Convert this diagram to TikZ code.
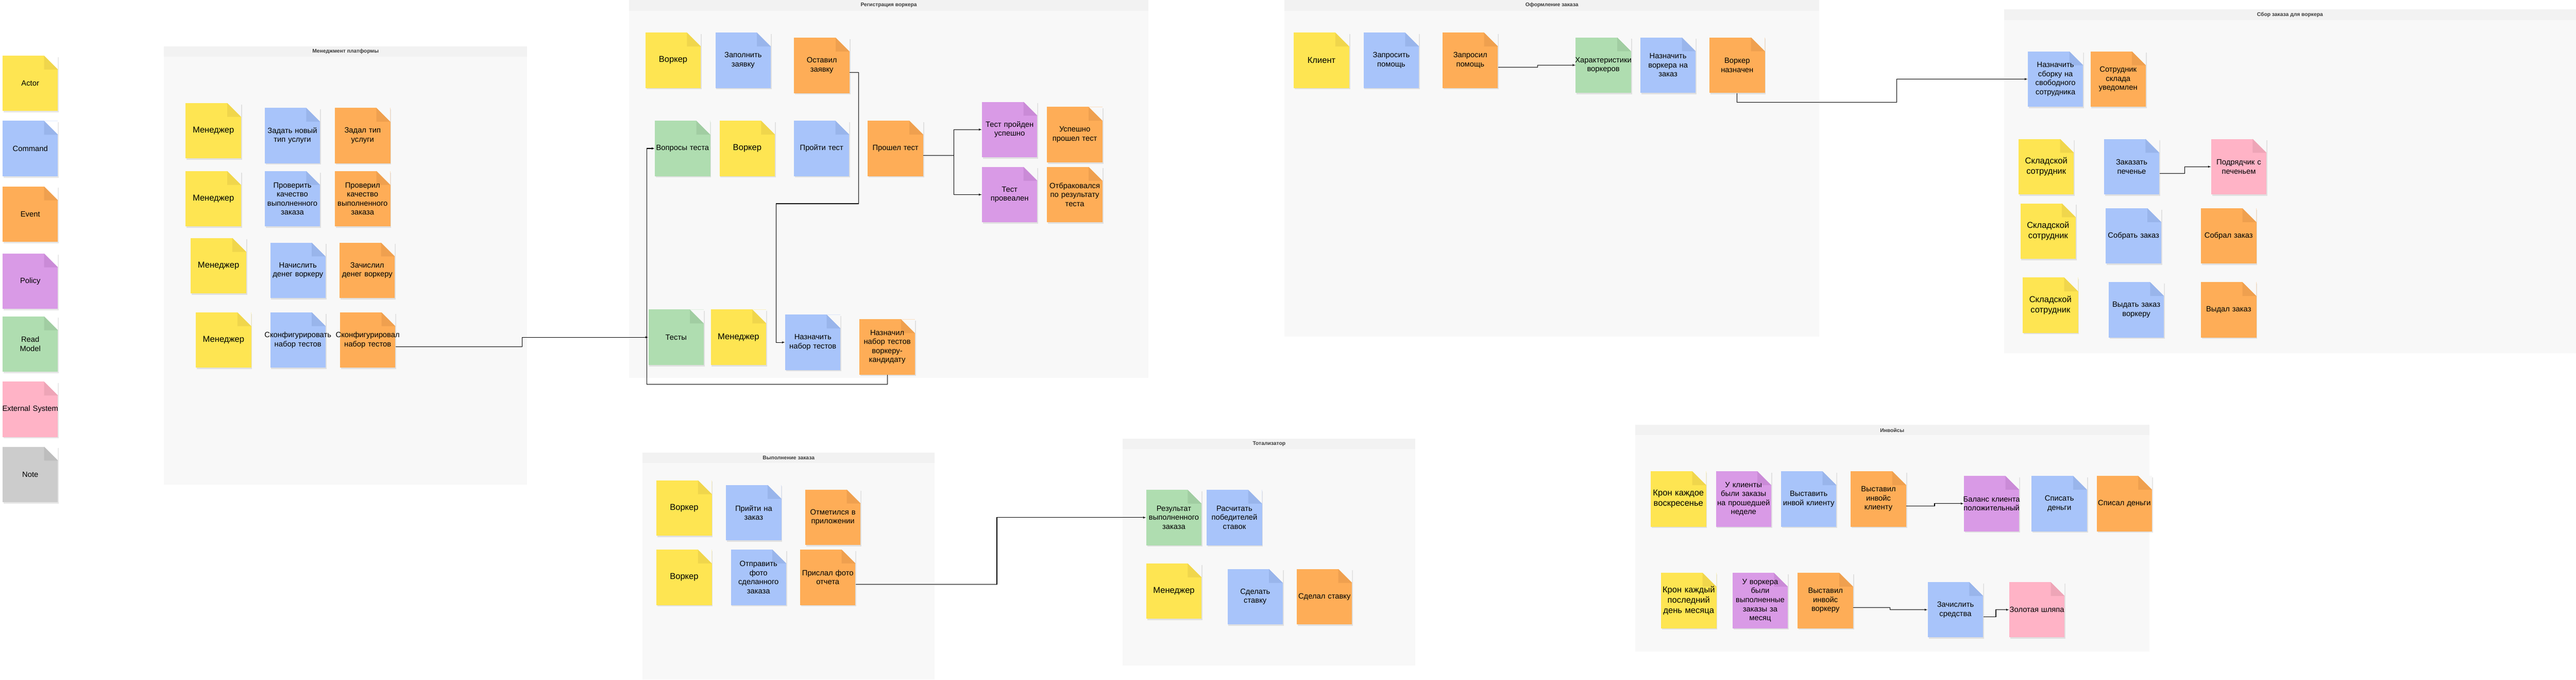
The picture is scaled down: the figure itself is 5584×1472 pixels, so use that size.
\documentclass[tikz,border=0pt]{standalone}
\usepackage{fontspec}
\setmainfont{Liberation Sans}
\usetikzlibrary{arrows,calc,positioning,shadows}

\definecolor{actorfill}{HTML}{FEE552}
\definecolor{actorfold}{HTML}{F0D64C}
\definecolor{cmdfill}{HTML}{A8C4FA}
\definecolor{cmdfold}{HTML}{99B5EB}
\definecolor{eventfill}{HTML}{FEAD57}
\definecolor{eventfold}{HTML}{EFA04F}
\definecolor{policyfill}{HTML}{D99AE6}
\definecolor{policyfold}{HTML}{CA8BD7}
\definecolor{readfill}{HTML}{AFDDB0}
\definecolor{readfold}{HTML}{A1CDA2}
\definecolor{extfill}{HTML}{FFB3C6}
\definecolor{extfold}{HTML}{EEA5B7}
\definecolor{remarkfill}{HTML}{CCCCCC}
\definecolor{remarkfold}{HTML}{BDBDBD}
\definecolor{lanebg}{HTML}{F8F8F8}
\definecolor{lanehead}{HTML}{F2F2F2}
\definecolor{lanetext}{HTML}{3C3C3C}

\newcommand{\stickyfont}{\fontsize{16.5}{19.6}\selectfont}
\newcommand{\actorfont}{\fontsize{18.5}{22}\selectfont}
\newcommand{\wideword}[1]{\makebox[0pt]{#1}}

\tikzset{foldcolor/.store in=\foldcol, cornercolor/.store in=\cornercol,
	foldcolor=actorfold, cornercolor=lanebg}

\begin{document}
\begin{tikzpicture}[x=1pt,y=-1pt,>=latex',line width=1.2pt]
	\tikzstyle{sticky} = [rectangle, minimum width=120pt, minimum height=120pt, text width=120pt, inner xsep=0pt, inner ysep=3pt, align=center, font=\stickyfont,
		drop shadow={opacity=0.2, shadow xshift=2pt, shadow yshift=-3pt},
		path picture={
			\fill[\cornercol] (path picture bounding box.north east) -- ++(-30pt,0pt) -- ++(30pt,-30pt) -- cycle;
			\fill[\foldcol] ([xshift=-30pt]path picture bounding box.north east) -- ++(0pt,-30pt) -- ++(30pt,0pt) -- cycle;}]
	\tikzstyle{actor} = [sticky, fill=actorfill, foldcolor=actorfold, font=\actorfont]
	\tikzstyle{command} = [sticky, fill=cmdfill, foldcolor=cmdfold]
	\tikzstyle{event} = [sticky, fill=eventfill, foldcolor=eventfold]
	\tikzstyle{policy} = [sticky, fill=policyfill, foldcolor=policyfold]
	\tikzstyle{readmodel} = [sticky, fill=readfill, foldcolor=readfold]
	\tikzstyle{extsys} = [sticky, fill=extfill, foldcolor=extfold]
	\tikzstyle{remark} = [sticky, fill=remarkfill, foldcolor=remarkfold]
	\tikzstyle{lanetitle} = [font=\fontsize{11.5}{14}\selectfont\bfseries, text=lanetext]
	
	\useasboundingbox (0,0) rectangle (5584,1472);
	
	\fill[lanebg] (355,101) rectangle (1143,1050);
	\fill[lanehead] (355,101) rectangle (1143,123);
	\node [lanetitle] (t_manage) at (749,112) {Менеджмент платформы};
	\fill[lanebg] (1364,0) rectangle (2489,819);
	\fill[lanehead] (1364,0) rectangle (2489,23);
	\node [lanetitle] (t_reg) at (1926.5,11.5) {Регистрация воркера};
	\fill[lanebg] (2784.5,0) rectangle (3943.5,729.5);
	\fill[lanehead] (2784.5,0) rectangle (3943.5,23);
	\node [lanetitle] (t_order) at (3364,11.5) {Оформление заказа};
	\fill[lanebg] (4344,20.5) rectangle (5584,765);
	\fill[lanehead] (4344,20.5) rectangle (5584,43);
	\node [lanetitle] (t_pick) at (4964,31.7) {Сбор заказа для воркера};
	\fill[lanebg] (1393,980.7) rectangle (2026,1472);
	\fill[lanehead] (1393,980.7) rectangle (2026,1002.7);
	\node [lanetitle] (t_exec) at (1709.5,991.7) {Выполнение заказа};
	\fill[lanebg] (2434,950) rectangle (3068,1442);
	\fill[lanehead] (2434,950) rectangle (3068,973);
	\node [lanetitle] (t_tote) at (2751,961.5) {Тотализатор};
	\fill[lanebg] (3544.4,920.7) rectangle (4659,1412);
	\fill[lanehead] (3544.4,920.7) rectangle (4659,942.7);
	\node [lanetitle] (t_invoice) at (4101.7,931.7) {Инвойсы};
	
	\node [actor, cornercolor=white, font=\stickyfont, anchor=north west] (l_actor) at (5,120) {Actor};
	\node [command, cornercolor=white, below = 20pt of l_actor] (l_command) {Command};
	\node [event, cornercolor=white, below = 21pt of l_command] (l_event) {Event};
	\node [policy, cornercolor=white, below = 24pt of l_event] (l_policy) {Policy};
	\node [readmodel, cornercolor=white, below = 15pt of l_policy] (l_read) {Read\\Model};
	\node [extsys, cornercolor=white, below = 20pt of l_read] (l_ext) {\wideword{External System}};
	\node [remark, cornercolor=white, below = 20pt of l_ext] (l_note) {Note};
	
	\node [actor, anchor=north west] (m_manager1) at (402,222.6) {Менеджер};
	\node [command, right = 50pt of m_manager1, yshift=-10.4pt] (m_settype) {\wideword{Задать новый}\\тип услуги};
	\node [event, right = 31pt of m_settype] (m_typeset) {Задал тип\\услуги};
	\node [actor, anchor=north west] (m_manager2) at (402,370) {Менеджер};
	\node [command, right = 50pt of m_manager2] (m_check) {Проверить\\качество\\выполненного\\заказа};
	\node [event, right = 31pt of m_check] (m_checked) {Проверил\\качество\\выполненного\\заказа};
	\node [actor, anchor=north west] (m_manager3) at (413,515) {Менеджер};
	\node [command, right = 51pt of m_manager3, yshift=-10pt] (m_pay) {Начислить\\\wideword{денег воркеру}};
	\node [event, right = 29pt of m_pay] (m_paid) {Зачислил\\\wideword{денег воркеру}};
	\node [actor, anchor=north west] (m_manager4) at (424,676) {Менеджер};
	\node [command, right = 40pt of m_manager4] (m_config) {\wideword{Сконфигурировать}\\набор тестов};
	\node [event, right = 30pt of m_config] (m_configured) {\wideword{Сконфигурировал}\\набор тестов};
	
	\node [actor, anchor=north west] (r_worker1) at (1398.5,70) {Воркер};
	\node [command, right = 30.5pt of r_worker1] (r_fill) {Заполнить\\заявку};
	\node [event, right = 49.5pt of r_fill, yshift=-11pt] (r_left) {Оставил\\заявку};
	\node [readmodel, anchor=north west] (r_questions) at (1419,261) {\wideword{Вопросы теста}};
	\node [actor, right = 19pt of r_questions] (r_worker2) {Воркер};
	\node [command, right = 40pt of r_worker2] (r_pass) {Пройти тест};
	\node [event, right = 39pt of r_pass] (r_passed) {Прошел тест};
	\node [policy, anchor=north west] (r_ok) at (2128,220) {\wideword{Тест пройден}\\успешно};
	\node [event, right = 20pt of r_ok, yshift=-11pt] (r_okdone) {Успешно\\прошел тест};
	\node [policy, anchor=north west] (r_fail) at (2128,361) {Тест\\провеален};
	\node [event, right = 20pt of r_fail] (r_faildone) {\wideword{Отбраковался}\\\wideword{по результату}\\теста};
	\node [readmodel, anchor=north west] (r_tests) at (1405,670) {Тесты};
	\node [actor, right = 14pt of r_tests] (r_manager) {Менеджер};
	\node [command, right = 40pt of r_manager, yshift=-11pt] (r_assign) {Назначить\\набор тестов};
	\node [event, right = 40pt of r_assign, yshift=-10pt] (r_assigned) {Назначил\\набор тестов\\воркеру-\\кандидату};
	
	\node [actor, anchor=north west] (o_client) at (2804,70) {Клиент};
	\node [command, right = 30pt of o_client] (o_ask) {Запросить\\помощь};
	\node [event, right = 50pt of o_ask] (o_asked) {Запросил\\помощь};
	\node [readmodel, anchor=north west] (o_traits) at (3415,80.5) {\wideword{Характеристики}\\воркеров};
	\node [command, right = 19pt of o_traits] (o_assign) {Назначить\\воркера на\\заказ};
	\node [event, right = 28.6pt of o_assign] (o_assigned) {Воркер\\назначен};
	
	\node [command, anchor=north west] (s_assign) at (4395,110.7) {Назначить\\сборку на\\свободного\\сотрудника};
	\node [event, right = 14.6pt of s_assign] (s_notified) {Сотрудник\\склада\\уведомлен};
	\node [actor, anchor=north west] (s_keeper1) at (4375,300.5) {Складской\\сотрудник};
	\node [command, right = 64pt of s_keeper1] (s_order) {Заказать\\печенье};
	\node [extsys, right = 111pt of s_order] (s_cookie) {\wideword{Подрядчик с}\\печеньем};
	\node [actor, anchor=north west] (s_keeper2) at (4379,440) {Складской\\сотрудник};
	\node [command, right = 64pt of s_keeper2, yshift=-10.5pt] (s_collect) {\wideword{Собрать заказ}};
	\node [event, right = 85pt of s_collect] (s_collected) {\wideword{Собрал заказ}};
	\node [actor, anchor=north west] (s_keeper3) at (4384,600.5) {Складской\\сотрудник};
	\node [command, right = 65pt of s_keeper3, yshift=-10pt] (s_give) {\wideword{Выдать заказ}\\воркеру};
	\node [event, right = 79pt of s_give] (s_given) {Выдал заказ};
	
	\node [actor, anchor=north west] (v_worker1) at (1422.4,1040) {Воркер};
	\node [command, right = 29.6pt of v_worker1, yshift=-10pt] (v_come) {Прийти на\\заказ};
	\node [event, right = 50.5pt of v_come, yshift=-10pt] (v_checkin) {Отметился в\\приложении};
	\node [actor, anchor=north west] (v_worker2) at (1422.4,1190) {Воркер};
	\node [command, right = 40pt of v_worker2] (v_send) {Отправить\\фото\\сделанного\\заказа};
	\node [event, right = 29pt of v_send] (v_sent) {\wideword{Прислал фото}\\отчета};
	
	\node [readmodel, anchor=north west] (t_result) at (2484,1060.5) {Результат\\выполненного\\заказа};
	\node [command, right = 10pt of t_result] (t_calc) {Расчитать\\победителей\\ставок};
	\node [actor, anchor=north west] (t_manager) at (2484,1220) {Менеджер};
	\node [command, right = 55pt of t_manager, yshift=-12pt] (t_bet) {Сделать\\ставку};
	\node [event, right = 29pt of t_bet] (t_betdone) {\wideword{Сделал ставку}};
	
	\node [actor, anchor=north west] (i_cron1) at (3577.7,1020.3) {\wideword{Крон каждое}\\воскресенье};
	\node [policy, right = 20pt of i_cron1] (i_clients) {У клиенты\\были заказы\\\wideword{на прошедшей}\\неделе};
	\node [command, right = 20pt of i_clients] (i_issue) {Выставить\\\wideword{инвой клиенту}};
	\node [event, right = 30pt of i_issue] (i_issued) {Выставил\\инвойс\\клиенту};
	\node [policy, right = 124pt of i_issued, yshift=-10pt] (i_balance) {\wideword{Баланс клиента}\\\wideword{положительный}};
	\node [command, right = 25.7pt of i_balance] (i_charge) {Списать\\деньги};
	\node [event, right = 19.8pt of i_charge] (i_charged) {\wideword{Списал деньги}};
	\node [actor, anchor=north west] (i_cron2) at (3600,1240.3) {\wideword{Крон каждый}\\последний\\день месяца};
	\node [policy, right = 33.7pt of i_cron2] (i_workers) {У воркера\\были\\\wideword{выполненные}\\заказы за\\месяц};
	\node [event, right = 20.3pt of i_workers] (i_issuedw) {Выставил\\инвойс\\воркеру};
	\node [command, right = 160.6pt of i_issuedw, yshift=-20pt] (i_credit) {Зачислить\\средства};
	\node [extsys, right = 55.4pt of i_credit] (i_hat) {\wideword{Золотая шляпа}};
	
	\draw [->] ([yshift=-14pt]m_configured.east) -- ++(274pt,0pt) |- (r_tests.west);
	\draw [->] ([yshift=-15pt]r_left.east) -- ++(19.5pt,0pt) -- ++(0pt,-284.5pt) -- ++(-179.5pt,0pt) |- (r_assign.west);
	\draw [->] ([yshift=-15pt]r_passed.east) -- ++(65.5pt,0pt) coordinate (r_fork) |- (r_ok.west);
	\draw [->] (r_fork) |- (r_fail.west);
	\draw [->] (r_assigned.south) -- ++(0pt,-20pt) -- ++(-521pt,0pt) |- (r_questions.west);
	\draw [->] ([yshift=-15pt]o_asked.east) -- ++(85pt,0pt) |- (o_traits.west);
	\draw [->] (o_assigned.south) -- ++(0pt,-20pt) -- ++(346pt,0pt) |- (s_assign.west);
	\draw [->] ([yshift=-15pt]s_order.east) -- ++(54.5pt,0pt) |- (s_cookie.west);
	\draw [->] ([yshift=-15pt]v_sent.east) -- ++(306pt,0pt) |- (t_result.west);
	\draw [->] ([yshift=-15pt]i_issued.east) -- ++(61pt,0pt) |- (i_balance.west);
	\draw [->] ([yshift=-15pt]i_issuedw.east) -- ++(79pt,0pt) |- (i_credit.west);
	\draw [->] ([yshift=-15pt]i_credit.east) -- ++(27pt,0pt) |- (i_hat.west);
	
\end{tikzpicture}
\end{document}
